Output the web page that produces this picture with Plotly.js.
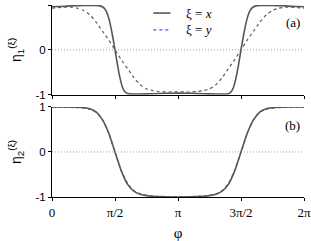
<!DOCTYPE html>
<html><head><meta charset="utf-8">
<script src="https://cdn.plot.ly/plotly-3.0.1.min.js"></script>
<style>html,body{margin:0;padding:0;background:#fff}#c{width:311px;height:241px}</style>
</head><body><div id="c"></div>
<script>
// phi in units of pi
const phiTopX = [0,0.05,0.1,0.15,0.2,0.25,0.3,0.35,0.38,0.4,0.42,0.44,0.46,0.48,0.5,0.52,0.54,0.56,0.58,0.6,0.65,0.7,0.8,0.9,1.0,
                 1.1,1.2,1.3,1.35,1.4,1.42,1.44,1.46,1.48,1.5,1.52,1.54,1.56,1.58,1.6,1.62,1.65,1.7,1.75,1.8,1.85,1.9,1.95,2.0];
const eta1X = [0.96,0.965,0.97,0.98,0.985,0.99,0.99,0.99,0.98,0.96,0.91,0.80,0.60,0.32,0.0,-0.34,-0.63,-0.84,-0.94,-0.975,-0.985,-0.985,-0.98,-0.97,-0.965,
               -0.97,-0.98,-0.985,-0.985,-0.98,-0.94,-0.84,-0.63,-0.34,0.0,0.32,0.60,0.80,0.91,0.96,0.98,0.99,0.99,0.99,0.985,0.98,0.97,0.965,0.96];
const phiY = [0,0.05,0.1,0.15,0.2,0.25,0.3,0.35,0.4,0.45,0.5,0.55,0.6,0.65,0.7,0.75,0.8,0.85,0.9,0.95,1.0,
              1.05,1.1,1.15,1.2,1.25,1.3,1.35,1.4,1.45,1.5,1.55,1.6,1.65,1.7,1.75,1.8,1.85,1.9,1.95,2.0];
const eta1Y = [0.93,0.94,0.95,0.95,0.93,0.88,0.78,0.62,0.42,0.22,0.0,-0.22,-0.42,-0.62,-0.78,-0.87,-0.91,-0.93,-0.94,-0.94,-0.94,
               -0.94,-0.94,-0.93,-0.91,-0.87,-0.78,-0.62,-0.42,-0.22,0.0,0.22,0.42,0.62,0.78,0.88,0.93,0.95,0.95,0.94,0.93];
const phiB = [0,0.1,0.2,0.25,0.3,0.35,0.4,0.45,0.5,0.55,0.6,0.65,0.7,0.75,0.8,0.9,1.0,
              1.1,1.2,1.25,1.3,1.35,1.4,1.45,1.5,1.55,1.6,1.65,1.7,1.75,1.8,1.9,2.0];
const eta2X = [1.0,1.0,0.995,0.985,0.96,0.89,0.72,0.42,0.0,-0.42,-0.72,-0.87,-0.94,-0.97,-0.985,-0.995,-1.0,
               -0.995,-0.985,-0.97,-0.94,-0.87,-0.72,-0.42,0.0,0.42,0.72,0.89,0.96,0.985,0.995,1.0,1.0];
const eta2Y = [0.99,0.99,0.985,0.975,0.95,0.88,0.72,0.41,0.0,-0.41,-0.70,-0.86,-0.93,-0.965,-0.98,-0.99,-0.99,
               -0.99,-0.98,-0.965,-0.93,-0.86,-0.70,-0.41,0.0,0.41,0.72,0.88,0.95,0.975,0.985,0.99,0.99];
const xTickVals = [0,0.5,1,1.5,2];
const xTickText = ['0','π/2','π','3π/2','2π'];
const yTickVals = [-1,0,1];
const yTickText = ['-1','0','1'];

const solid = {color:'#4e5a5a', width:1.6};
const dashed = {color:'#5a5a5a', width:1.2, dash:'3px,3px'};
const traces = [
  {x:phiTopX, y:eta1X, mode:'lines', line:Object.assign({shape:'spline',smoothing:0.6},solid), xaxis:'x', yaxis:'y2', showlegend:false},
  {x:phiY, y:eta1Y, mode:'lines', line:Object.assign({shape:'spline',smoothing:0.6},dashed), xaxis:'x', yaxis:'y2', showlegend:false},
  {x:phiB, y:eta2X, mode:'lines', line:Object.assign({shape:'spline',smoothing:0.6},solid), xaxis:'x2', yaxis:'y', showlegend:false},
  {x:phiB, y:eta2Y, mode:'lines', line:Object.assign({shape:'spline',smoothing:0.6},dashed), xaxis:'x2', yaxis:'y', showlegend:false}
];
const tickFont = {family:'Liberation Sans, Arial', size:11.5, color:'#000'};
const serif = {family:'Liberation Serif, Times New Roman', size:13, color:'#000'};
const yax = (dom, title) => ({domain:dom, range:[-1,1], showline:true, linecolor:'#000', linewidth:1,
  ticks:'outside', ticklen:3, tickcolor:'#000', tickvals:yTickVals, ticktext:yTickText, tickfont:tickFont,
  showgrid:false, zeroline:false, fixedrange:true,
  title:{text:title, font:{family:'Liberation Sans, Arial', size:14, color:'#000'}, standoff:10}});
const xax = (labels, anchor) => ({range:[0,2], showline:true, linecolor:'#000', linewidth:1,
  ticks:'outside', ticklen:3, tickcolor:'#000', tickvals:xTickVals, ticktext:xTickText,
  showticklabels:labels, tickfont:serif, showgrid:false, zeroline:false, anchor:anchor});
const layout = {
  width:311, height:241, margin:{l:52, r:7, t:5, b:44},
  paper_bgcolor:'#fff', plot_bgcolor:'#fff', showlegend:false,
  xaxis: Object.assign(xax(false,'y2'), {matches:'x2'}),
  xaxis2: Object.assign(xax(true,'y'), {title:{text:'φ', font:{family:'Liberation Serif, Times New Roman', size:15, color:'#000'}, standoff:10}}),
  yaxis: yax([0,0.469], 'η<sub>2</sub><sup>(ξ)</sup>'),
  yaxis2: yax([0.533,1], 'η<sub>1</sub><sup>(ξ)</sup>'),
  shapes:[
    {type:'line', xref:'x domain', yref:'y2', x0:0, x1:1, y0:0, y1:0, line:{color:'#888', width:0.8, dash:'1px,2px'}},
    {type:'line', xref:'x2 domain', yref:'y', x0:0, x1:1, y0:0, y1:0, line:{color:'#888', width:0.8, dash:'1px,2px'}},
    {type:'line', xref:'paper', yref:'paper', x0:0.402, x1:0.470, y0:0.958, y1:0.958, line:{color:'#4e5a5a', width:1.6}},
    {type:'line', xref:'paper', yref:'paper', x0:0.402, x1:0.470, y0:0.870, y1:0.870, line:{color:'#3355ff', width:1.2, dash:'3px,3px'}}
  ],
  annotations:[
    {xref:'paper', yref:'paper', x:0.522, y:0.958, xanchor:'left', yanchor:'middle', showarrow:false, text:'ξ = <i>x</i>', font:serif},
    {xref:'paper', yref:'paper', x:0.522, y:0.870, xanchor:'left', yanchor:'middle', showarrow:false, text:'ξ = <i>y</i>', font:serif},
    {xref:'paper', yref:'paper', x:0.956, y:0.911, xanchor:'center', yanchor:'middle', showarrow:false, text:'(a)', font:serif},
    {xref:'paper', yref:'paper', x:0.956, y:0.370, xanchor:'center', yanchor:'middle', showarrow:false, text:'(b)', font:serif}
  ]
};
Plotly.newPlot('c', traces, layout, {staticPlot:true, displayModeBar:false});
</script></body></html>
